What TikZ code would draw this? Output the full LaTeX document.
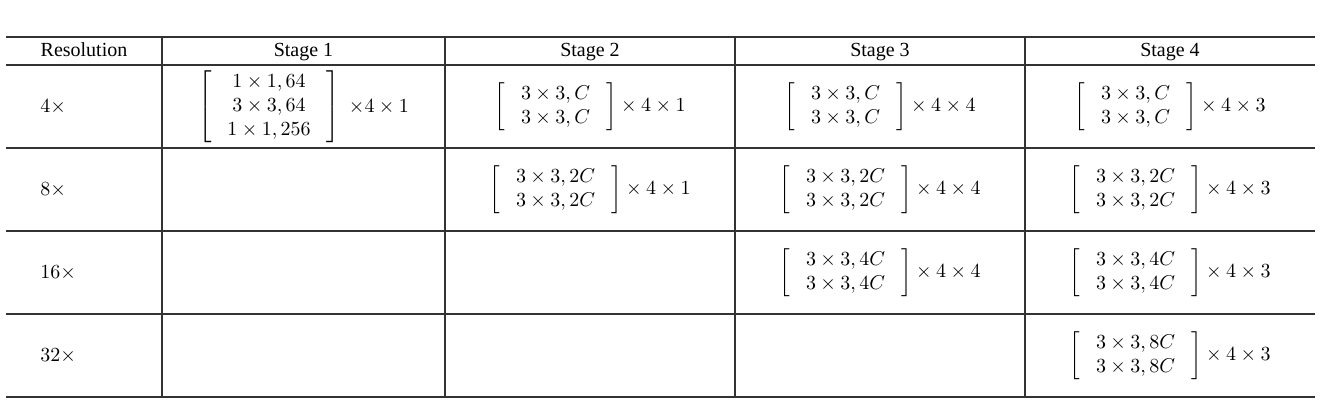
\documentclass[tikz,border=0pt]{standalone}
\usepackage{amsmath}
\usepackage[no-math]{fontspec}
\setmainfont{Liberation Serif}
\usetikzlibrary{calc}

\newcommand{\blk}[1]{\left[\begin{array}{c}#1\end{array}\right]}
\setlength{\arraycolsep}{8pt}

\begin{document}
\begin{tikzpicture}[x=0.5pt,y=-0.5pt,
	rule/.style={draw=black!80,line width=0.6pt},
	head node/.style={inner sep=0pt,text height=1.5ex,text depth=.25ex},
	cell node/.style={inner sep=0pt},
	res node/.style={inner sep=0pt,anchor=west}]
	
	\useasboundingbox (0,0) rectangle (1333,412);
	
	% table rules
	\foreach \y in {37,65,148,231,314,397}
		\draw[rule] (6,\y) -- (1315,\y);
	\foreach \x in {162,445,735,1025}
		\draw[rule] (\x,37) -- (\x,397);
	
	% header
	\node[head node] (res) at (84,51) {Resolution};
	\node[head node] (st1) at (303.5,51) {Stage 1};
	\node[head node] (st2) at (590,51) {Stage 2};
	\node[head node] (st3) at (880,51) {Stage 3};
	\node[head node] (st4) at (1170,51) {Stage 4};
	
	% resolutions
	\node[res node] (r4) at (40,106.5) {$4\times$};
	\node[res node] (r8) at (40,189.5) {$8\times$};
	\node[res node] (r16) at (40,272.5) {$16\times$};
	\node[res node] (r32) at (40,355.5) {$32\times$};
	
	% 4x
	\node[cell node] (a1) at (303.5,107) {$\blk{1\times1,64\\3\times3,64\\1\times1,256}\;{\times}4\times1$};
	\node[cell node] (a2) at (590,106.5) {$\blk{3\times3,C\\3\times3,C}\times4\times1$};
	\node[cell node] (a3) at (880,106.5) {$\blk{3\times3,C\\3\times3,C}\times4\times4$};
	\node[cell node] (a4) at (1170,106.5) {$\blk{3\times3,C\\3\times3,C}\times4\times3$};
	
	% 8x
	\node[cell node] (b2) at (590,189.5) {$\blk{3\times3,2C\\3\times3,2C}\times4\times1$};
	\node[cell node] (b3) at (880,189.5) {$\blk{3\times3,2C\\3\times3,2C}\times4\times4$};
	\node[cell node] (b4) at (1170,189.5) {$\blk{3\times3,2C\\3\times3,2C}\times4\times3$};
	
	% 16x
	\node[cell node] (c3) at (880,272.5) {$\blk{3\times3,4C\\3\times3,4C}\times4\times4$};
	\node[cell node] (c4) at (1170,272.5) {$\blk{3\times3,4C\\3\times3,4C}\times4\times3$};
	
	% 32x
	\node[cell node] (d4) at (1170,355.5) {$\blk{3\times3,8C\\3\times3,8C}\times4\times3$};
\end{tikzpicture}
\end{document}
